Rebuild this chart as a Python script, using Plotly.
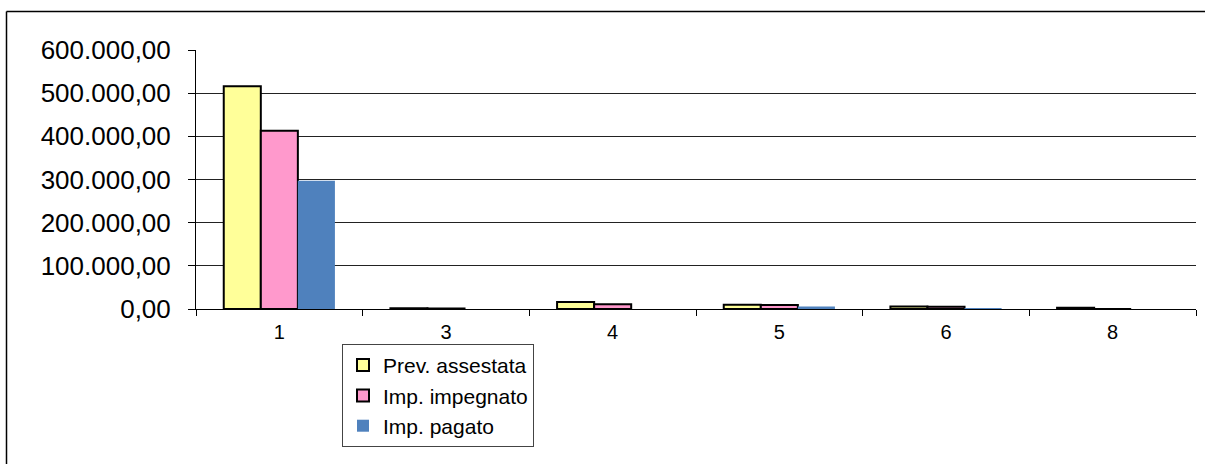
import plotly.graph_objects as go

categories = ["1", "3", "4", "5", "6", "8"]
prev_assestata = [516000, 1500, 16000, 10000, 6000, 3000]
imp_impegnato = [413000, 1200, 11000, 9000, 5000, 0]
imp_pagato = [297000, 0, 0, 6000, 1500, 0]

series_names = ["Prev. assestata", "Imp. impegnato", "Imp. pagato"]
y_ticks = [0, 100000, 200000, 300000, 400000, 500000, 600000]

fig = go.Figure()
fig.add_trace(go.Bar(x=categories, y=prev_assestata, name=series_names[0], legendgroup="a",
                     marker=dict(color="#FFFF99", line=dict(color="black", width=2))))
fig.add_trace(go.Bar(x=categories, y=imp_impegnato, name=series_names[1], legendgroup="b",
                     marker=dict(color="#FF99CC", line=dict(color="black", width=2))))
fig.add_trace(go.Bar(x=categories, y=imp_pagato, name=series_names[2], legendgroup="c",
                     marker=dict(color="#4F81BD", line=dict(width=0))))

fig.update_layout(
    width=1209, height=464,
    margin=dict(l=196, r=13, t=50, b=155),
    paper_bgcolor="white", plot_bgcolor="white",
    separators=",.",
    barmode="group", bargap=0.333, bargroupgap=0,
    font=dict(family="Arial, Liberation Sans, sans-serif", color="black"),
    showlegend=True,
    legend=dict(x=0.146, y=-0.135, xanchor="left", yanchor="top",
                bordercolor="#444", borderwidth=1, bgcolor="white",
                font=dict(size=21), tracegroupgap=7, traceorder="normal"),
    xaxis=dict(type="category", showline=True, linecolor="black", linewidth=1,
               ticks="outside", tickson="boundaries", ticklen=6, tickcolor="black",
               ticklabelstandoff=5,
               tickfont=dict(size=20), showgrid=False),
    yaxis=dict(range=[0, 600000], tickvals=y_ticks, tickformat=",.2f",
               showline=True, linecolor="black", linewidth=1,
               ticks="outside", ticklen=7, tickcolor="black", ticklabelstandoff=12,
               tickfont=dict(size=26), showgrid=True, gridcolor="#222", gridwidth=1,
               zeroline=False),
    shapes=[
        dict(type="line", xref="paper", yref="paper", x0=-0.1895, x1=1.009, y0=1.1486, y1=1.1486,
             line=dict(color="black", width=1.5)),
        dict(type="line", xref="paper", yref="paper", x0=-0.1895, x1=-0.1895, y0=1.1486, y1=-0.7,
             line=dict(color="black", width=1.5)),
    ],
)

fig.write_html("out.html")
